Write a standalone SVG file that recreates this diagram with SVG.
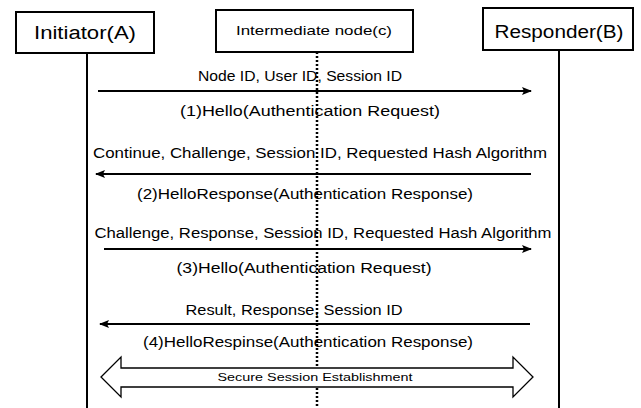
<svg xmlns="http://www.w3.org/2000/svg" width="641" height="408" viewBox="0 0 641 408">
<defs>
<style>
.box{fill:#fff;stroke:#000;stroke-width:2}
.life{stroke:#000;stroke-width:2;fill:none}
.msg{stroke:#000;stroke-width:2;fill:none}
.t{font-family:"Liberation Sans",Arial,sans-serif;fill:#000;text-anchor:middle}
.big{font-size:18px}
.mid{font-size:13px}
.lbl{font-size:14px}
.sm{font-size:11px}
</style>
<marker id="ah" viewBox="0 0 10 8" refX="9" refY="4" markerWidth="10" markerHeight="8" markerUnits="userSpaceOnUse" orient="auto">
<path d="M0,0 L10,4 L0,8 L2,4 Z" fill="#000"/>
</marker>
</defs>
<rect width="641" height="408" fill="#fff"/>
<g id="lifelines">
<line class="life" x1="87" y1="53" x2="87" y2="408"/>
<line x1="317" y1="52" x2="317" y2="408" stroke="#000" stroke-width="2.5" stroke-dasharray="2,2"/>
<line class="life" x1="559" y1="50" x2="559" y2="408"/>
</g>
<g id="initiator">
<rect class="box" x="16" y="12" width="138" height="41"/>
<text class="t big" x="85" y="39" textLength="102" lengthAdjust="spacingAndGlyphs">Initiator(A)</text>
</g>
<g id="intermediate">
<rect class="box" x="216" y="10" width="197" height="42"/>
<text class="t mid" x="314" y="35" textLength="156" lengthAdjust="spacingAndGlyphs">Intermediate node(c)</text>
</g>
<g id="responder">
<rect class="box" x="483" y="8" width="150" height="42"/>
<text class="t big" x="559" y="38" textLength="129" lengthAdjust="spacingAndGlyphs">Responder(B)</text>
</g>
<g id="connectors">
<line class="msg" x1="98" y1="91" x2="531" y2="91" marker-end="url(#ah)"/>
<line class="msg" x1="531" y1="174" x2="96" y2="174" marker-end="url(#ah)"/>
<line class="msg" x1="104" y1="249" x2="531" y2="249" marker-end="url(#ah)"/>
<line class="msg" x1="530" y1="324" x2="100" y2="324" marker-end="url(#ah)"/>
<path d="M101,377 L121,357 L121,368 L513,368 L513,357 L533,377 L513,397 L513,387 L121,387 L121,397 Z" fill="#fff" stroke="#000" stroke-width="1.3"/>
</g>
<g id="labels">
<text class="t lbl" x="300" y="81" textLength="204" lengthAdjust="spacingAndGlyphs">Node ID, User ID, Session ID</text>
<text class="t lbl" x="310" y="116" textLength="260" lengthAdjust="spacingAndGlyphs">(1)Hello(Authentication Request)</text>
<text class="t lbl" x="320" y="158" textLength="454" lengthAdjust="spacingAndGlyphs">Continue, Challenge, Session ID, Requested Hash Algorithm</text>
<text class="t lbl" x="305" y="199" textLength="336" lengthAdjust="spacingAndGlyphs">(2)HelloResponse(Authentication Response)</text>
<text class="t lbl" x="323" y="238" textLength="457" lengthAdjust="spacingAndGlyphs">Challenge, Response, Session ID, Requested Hash Algorithm</text>
<text class="t lbl" x="304" y="273" textLength="255" lengthAdjust="spacingAndGlyphs">(3)Hello(Authentication Request)</text>
<text class="t lbl" x="294" y="315" textLength="217" lengthAdjust="spacingAndGlyphs">Result, Response, Session ID</text>
<text class="t lbl" x="308" y="347" textLength="330" lengthAdjust="spacingAndGlyphs">(4)HelloRespinse(Authentication Response)</text>
<text class="t sm" x="315" y="381" textLength="195" lengthAdjust="spacingAndGlyphs">Secure Session Establishment</text>
</g>
</svg>
